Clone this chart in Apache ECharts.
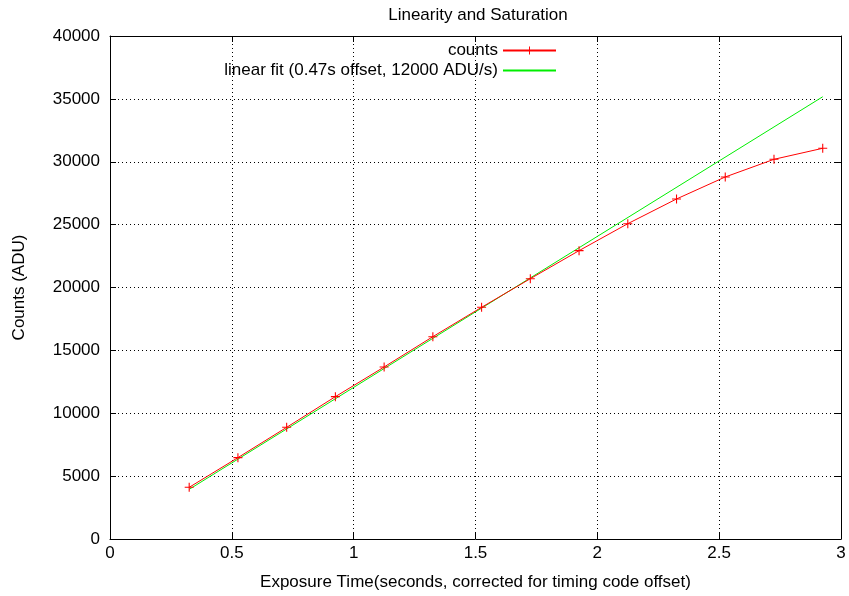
<!DOCTYPE html>
<html>
<head>
<meta charset="utf-8">
<script src="https://cdn.jsdelivr.net/npm/echarts@6/dist/echarts.min.js"></script>
<style>
  html, body { margin: 0; padding: 0; background: #fff; }
  #chart { width: 849px; height: 596px; }
</style>
</head>
<body>
<div id="chart"></div>
<script>
// measured points (exposure time s, counts ADU)
const exposure = [0.325, 0.525, 0.725, 0.925, 1.125, 1.325, 1.525, 1.725, 1.925, 2.125, 2.325, 2.525, 2.725, 2.925]
const counts = [4110, 6470, 8880, 11320, 13680, 16090, 18425, 20700, 22930, 25075, 27040, 28790, 30195, 31070]
// straight fit line, endpoints
const fitX = [0.325, 2.925]
const fitY = [3950, 35170]

const countsName = 'counts'
const fitName = 'linear fit (0.47s offset, 12000 ADU/s)'

const font = 'Liberation Sans, Arial, sans-serif'
const fs = 17
const plus = 'path://M4.4,0H5.6V4.4H10V5.6H5.6V10H4.4V5.6H0V4.4H4.4Z'

const chart = echarts.init(document.getElementById('chart'))

const gridLine = { show: true, lineStyle: { color: '#000', type: [1, 3], width: 1 } }
const frameLine = { show: true, onZero: false, lineStyle: { color: '#000', width: 1 } }
const tickIn = { show: true, inside: true, length: 6, lineStyle: { color: '#000' } }
const txt = { fontFamily: font, fontSize: fs, color: '#000' }

chart.setOption({
  animation: false,
  title: {
    text: 'Linearity and Saturation',
    left: 473,
    textAlign: 'center',
    top: 2,
    textStyle: { ...txt, fontWeight: 'normal' }
  },
  legend: [
    {
      data: [countsName],
      orient: 'vertical',
      right: 287,
      top: 37,
      align: 'right',
      itemWidth: 53,
      itemHeight: 10,
      textStyle: txt
    },
    {
      data: [{ name: fitName, itemStyle: { opacity: 0 } }],
      orient: 'vertical',
      right: 287,
      top: 57,
      align: 'right',
      itemWidth: 53,
      itemHeight: 10,
      textStyle: txt
    }
  ],
  grid: { left: 110, right: 8, top: 36, bottom: 57, outerBoundsMode: 'none', containLabel: false },
  xAxis: [
    {
      type: 'value',
      min: 0,
      max: 3,
      interval: 0.5,
      name: 'Exposure Time(seconds, corrected for timing code offset)',
      nameLocation: 'middle',
      nameGap: 35,
      nameTextStyle: txt,
      axisLine: frameLine,
      axisTick: tickIn,
      splitLine: gridLine,
      axisLabel: { ...txt, margin: 6 }
    },
    {
      type: 'value',
      position: 'top',
      min: 0,
      max: 3,
      interval: 0.5,
      axisLine: frameLine,
      axisTick: tickIn,
      splitLine: { show: false },
      axisLabel: { show: false }
    }
  ],
  yAxis: [
    {
      type: 'value',
      min: 0,
      max: 40000,
      interval: 5000,
      name: 'Counts (ADU)',
      nameLocation: 'middle',
      nameGap: 82,
      nameTextStyle: txt,
      axisLine: frameLine,
      axisTick: tickIn,
      splitLine: gridLine,
      axisLabel: { ...txt, margin: 10, formatter: (v) => String(v) }
    },
    {
      type: 'value',
      position: 'right',
      min: 0,
      max: 40000,
      interval: 5000,
      axisLine: frameLine,
      axisTick: tickIn,
      splitLine: { show: false },
      axisLabel: { show: false }
    }
  ],
  series: [
    {
      name: countsName,
      type: 'line',
      data: exposure.map((x, i) => [x, counts[i]]),
      symbol: plus,
      symbolSize: 9,
      showAllSymbol: true,
      itemStyle: { color: '#ff0000' },
      lineStyle: { color: '#ff0000', width: 1 },
      z: 3
    },
    {
      name: fitName,
      type: 'line',
      data: fitX.map((x, i) => [x, fitY[i]]),
      symbol: 'none',
      itemStyle: { color: '#00ee00' },
      lineStyle: { color: '#00ee00', width: 1 },
      z: 2
    }
  ]
})
</script>
</body>
</html>
